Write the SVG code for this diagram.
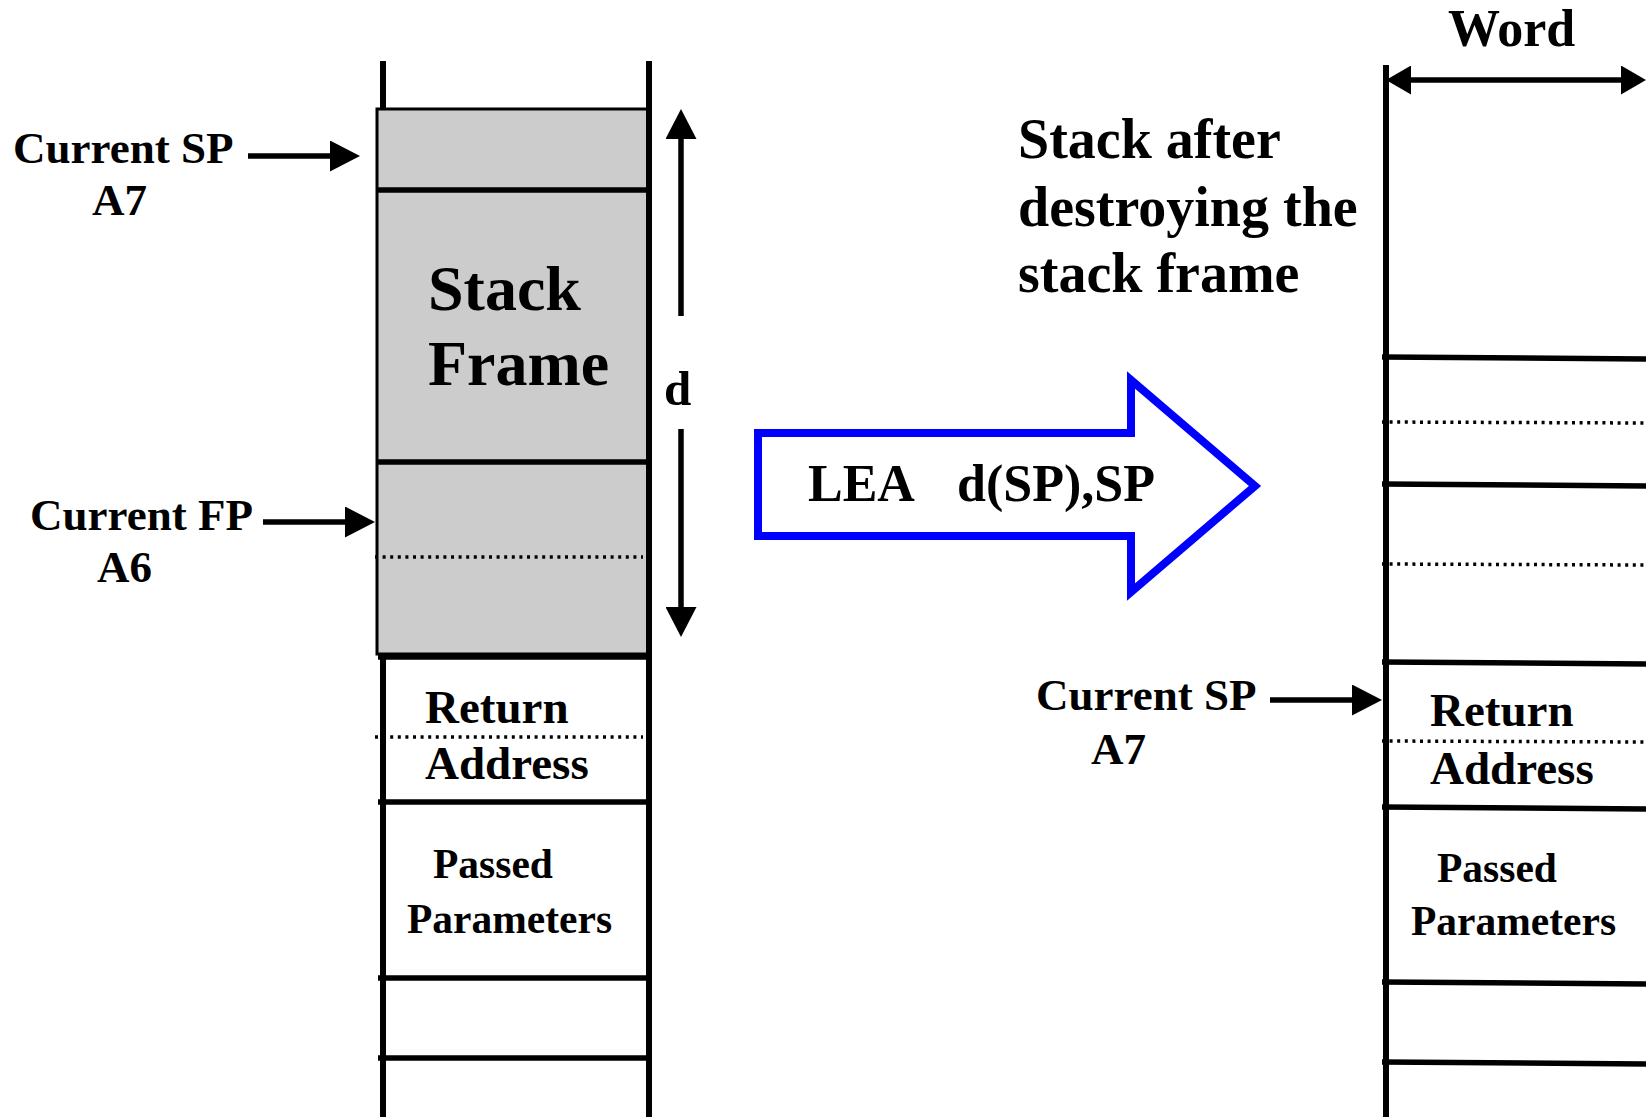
<svg xmlns="http://www.w3.org/2000/svg" width="1646" height="1117" viewBox="0 0 1646 1117">
  <style>
    text { font-family: "Liberation Serif", "Times New Roman", serif; font-weight: bold; fill: #000; }
    .ptr { font-size: 45px; }
    .cell { font-size: 47px; }
    .param { font-size: 41.5px; }
    .big { font-size: 64px; }
    .title { font-size: 56px; }
    .wall { stroke: #000; stroke-width: 6; fill: none; }
    .div { stroke: #000; stroke-width: 5.5; }
    .dot { stroke: #000; stroke-width: 3.5; stroke-dasharray: 3 4.6; }
    .link { stroke: #000; stroke-width: 5.5; fill: none; }
  </style>
  <defs>
    <marker id="head" viewBox="0 0 30 31" markerWidth="30" markerHeight="31" refX="0" refY="15.5" orient="auto" markerUnits="userSpaceOnUse">
      <path d="M0,0 L30,15.5 L0,31 Z" fill="#000"/>
    </marker>
    <marker id="whead" viewBox="0 0 25 29" markerWidth="25" markerHeight="29" refX="0" refY="14.5" orient="auto-start-reverse" markerUnits="userSpaceOnUse">
      <path d="M0,0 L25,14.5 L0,29 Z" fill="#000"/>
    </marker>
  </defs>

  <rect x="0" y="0" width="1646" height="1117" fill="#fff"/>

  <!-- Stack before LEA: the frame is still allocated -->
  <g id="stack-before">
    <line class="wall" x1="383" y1="61" x2="383" y2="108"/>
    <rect id="frame" x="377" y="109" width="271" height="545" fill="#cccccc" stroke="#000" stroke-width="3"/>
    <line class="wall" x1="649" y1="61" x2="649" y2="1117"/>
    <line class="wall" x1="383" y1="656" x2="383" y2="1117"/>
    <line class="div" x1="377" y1="190" x2="648" y2="190"/>
    <line class="div" x1="377" y1="462" x2="648" y2="462"/>
    <line class="dot" x1="375" y1="557" x2="643" y2="557"/>
    <line class="div" x1="378" y1="657" x2="649" y2="657"/>
    <line class="dot" x1="375" y1="737" x2="643" y2="737"/>
    <line class="div" x1="378" y1="802" x2="649" y2="802"/>
    <line class="div" x1="378" y1="978" x2="649" y2="978"/>
    <line class="div" x1="378" y1="1058" x2="649" y2="1058"/>
    <text class="big" x="428" y="310">Stack</text>
    <text class="big" x="428" y="385">Frame</text>
    <text class="cell" x="425" y="723">Return</text>
    <text class="cell" x="425" y="779">Address</text>
    <text class="param" x="433" y="878">Passed</text>
    <text class="param" x="407" y="933">Parameters</text>
  </g>

  <g id="label-sp-before">
    <text class="ptr" x="13" y="163">Current SP</text>
    <text class="ptr" x="92" y="215">A7</text>
  </g>
  <g id="label-fp">
    <text class="ptr" x="30" y="530">Current FP</text>
    <text class="ptr" x="97" y="582">A6</text>
  </g>
  <g id="label-d">
    <text x="664" y="405" font-size="49px">d</text>
  </g>

  <!-- LEA instruction as a block arrow -->
  <g id="lea-op">
    <polygon points="758,433 1131,433 1131,380 1255,486 1131,592 1131,536 758,536" fill="none" stroke="#0000ff" stroke-width="8" stroke-linejoin="miter"/>
    <text x="808" y="501" font-size="52px"><tspan x="808">LEA</tspan><tspan x="957">d(SP),SP</tspan></text>
  </g>

  <g id="caption">
    <text class="title" x="1018" y="158">Stack after</text>
    <text class="title" x="1018" y="226">destroying the</text>
    <text class="title" x="1018" y="292">stack frame</text>
  </g>

  <!-- Stack after LEA: SP now points at the return address -->
  <g id="stack-after">
    <line class="wall" x1="1386" y1="65" x2="1386" y2="1117"/>
    <line class="div" x1="1382" y1="357" x2="1646" y2="359"/>
    <line class="dot" x1="1382" y1="422" x2="1646" y2="423"/>
    <line class="div" x1="1382" y1="484" x2="1646" y2="486"/>
    <line class="dot" x1="1382" y1="564" x2="1646" y2="565"/>
    <line class="div" x1="1382" y1="662" x2="1646" y2="664"/>
    <line class="dot" x1="1382" y1="741" x2="1646" y2="742"/>
    <line class="div" x1="1382" y1="807" x2="1646" y2="809"/>
    <line class="div" x1="1382" y1="982" x2="1646" y2="984"/>
    <line class="div" x1="1382" y1="1062" x2="1646" y2="1064"/>
    <text class="cell" x="1430" y="726">Return</text>
    <text class="cell" x="1430" y="784">Address</text>
    <text class="param" x="1437" y="882">Passed</text>
    <text class="param" x="1411" y="935">Parameters</text>
  </g>

  <g id="label-sp-after">
    <text class="ptr" x="1036" y="710">Current SP</text>
    <text class="ptr" x="1091" y="764">A7</text>
  </g>
  <g id="label-word">
    <text x="1448" y="46" font-size="52px">Word</text>
  </g>

  <g id="connectors">
    <line class="link" x1="248" y1="156" x2="330" y2="156" marker-end="url(#head)"/>
    <line class="link" x1="263" y1="522" x2="345" y2="522" marker-end="url(#head)"/>
    <line class="link" x1="681" y1="316" x2="681" y2="139" marker-end="url(#head)"/>
    <line class="link" x1="681" y1="429" x2="681" y2="607" marker-end="url(#head)"/>
    <line class="link" x1="1270" y1="700" x2="1352" y2="700" marker-end="url(#head)"/>
    <line class="link" x1="1411" y1="80" x2="1621" y2="80" marker-start="url(#whead)" marker-end="url(#whead)"/>
  </g>
</svg>
